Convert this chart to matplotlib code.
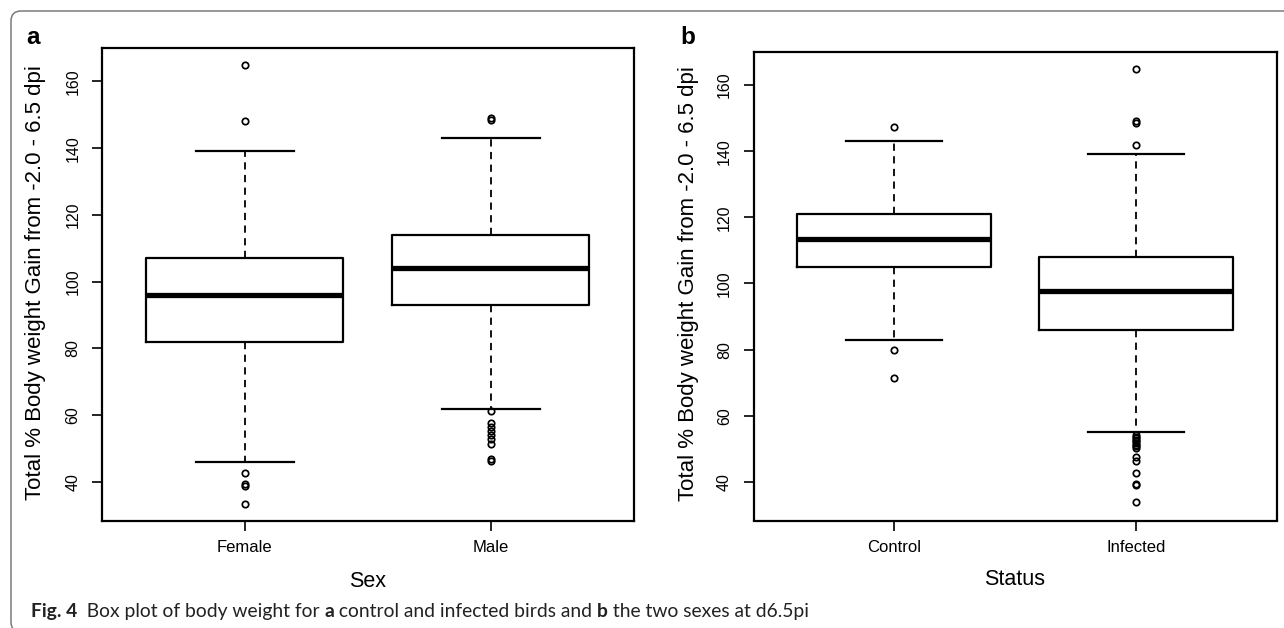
import matplotlib
matplotlib.use("Agg")
import matplotlib.pyplot as plt
from matplotlib.patches import FancyBboxPatch
from matplotlib.transforms import IdentityTransform

plt.rcParams['font.family'] = ['Liberation Sans', 'DejaVu Sans']

# panel a: by sex
sex_groups = ['Female', 'Male']
sex_med = [96, 104]
sex_q1 = [82, 93]
sex_q3 = [107, 114]
sex_lo = [46, 62]
sex_hi = [139, 143]
female_out = [165, 148.2, 42.8, 39.3, 38.9, 33.4]
male_out = [149.0, 148.3, 61.3, 57.8, 56.5, 55.3, 54.0, 52.8, 51.5, 46.9, 46.4]

# panel b: by infection status
status_groups = ['Control', 'Infected']
status_med = [113.5, 97.7]
status_q1 = [105, 86]
status_q3 = [121, 108]
status_lo = [83, 55]
status_hi = [143, 139]
control_out = [147.4, 80.0, 71.5]
infected_out = [165, 149, 148.5, 142, 54.2, 53.7, 53.2, 52.7, 52.2, 51.7,
                51.2, 50.7, 50.2, 47.5, 46.2, 42.8, 39.3, 39.0, 33.8]

yticks = [40, 60, 80, 100, 120, 140, 160]
ylab = 'Total % Body weight Gain from -2.0 - 6.5 dpi'


def make_stats(labels, med, q1, q3, lo, hi, outs):
    return [dict(label=labels[i], med=med[i], q1=q1[i], q3=q3[i],
                 whislo=lo[i], whishi=hi[i], fliers=outs[i])
            for i in range(len(labels))]


def draw_panel(ax, stats, xlab, letter, letter_xy):
    ax.bxp(stats, positions=[1, 2], widths=0.8, capwidths=0.4,
           boxprops=dict(color='black', linewidth=1.6),
           medianprops=dict(color='black', linewidth=3.8, solid_capstyle='butt'),
           whiskerprops=dict(color='black', linewidth=1.3, linestyle=(0, (4, 3))),
           capprops=dict(color='black', linewidth=1.6),
           flierprops=dict(marker='o', markerfacecolor='none',
                           markeredgecolor='black', markersize=4.6,
                           markeredgewidth=1.25))
    ax.set_xlim(0.42, 2.58)
    ax.set_ylim(28.3, 170.0)
    ax.set_yticks(yticks, [str(t) for t in yticks], rotation=90, va='center')
    ax.tick_params(axis='y', direction='out', length=7, width=1.2,
                   labelsize=11.5, pad=8.5)
    ax.tick_params(axis='x', direction='out', length=7, width=1.2,
                   labelsize=12, pad=7)
    for sp in ax.spines.values():
        sp.set_linewidth(1.6)
    ax.set_xlabel(xlab, fontsize=15.5)
    ax.xaxis.set_label_coords(0.5, -0.127)
    ax.xaxis.label.set_va('center')
    ax.set_ylabel(ylab, fontsize=16)
    ax.yaxis.set_label_coords(-0.125, 0.505)
    ax.yaxis.label.set_va('center')
    fig.text(letter_xy[0] / W, 1 - letter_xy[1] / H, letter, fontsize=17.5,
             fontweight='bold', ha='center', va='center')


W, H = 1284, 628
fig = plt.figure(figsize=(W / 100, H / 100), dpi=100)

ax1 = fig.add_axes([102 / W, 1 - 521 / H, 531.5 / W, 473 / H])
ax2 = fig.add_axes([753.5 / W, 1 - 520.5 / H, 523 / W, 468.5 / H])

stats_a = make_stats(sex_groups, sex_med, sex_q1, sex_q3, sex_lo, sex_hi,
                     [female_out, male_out])
stats_b = make_stats(status_groups, status_med, status_q1, status_q3,
                     status_lo, status_hi, [control_out, infected_out])

draw_panel(ax1, stats_a, 'Sex', 'a', (33, 38))
draw_panel(ax2, stats_b, 'Status', 'b', (688, 37))

# outer frame with rounded corners (runs off the right and bottom edge)
frame = FancyBboxPatch((11, -4), 1300, H - 11 + 4,
                       boxstyle='round,pad=0,rounding_size=10',
                       transform=IdentityTransform(), facecolor='none',
                       edgecolor='#7a7a7a', linewidth=1.1)
fig.add_artist(frame)

# caption with bold parts, chained piece by piece
cap = fig.add_axes([0, 0, 1, 1])
cap.axis('off')
cap.set_xlim(0, W)
cap.set_ylim(H, 0)
pieces = [('Fig. 4', 'bold'), ('  Box plot of body weight for ', 'normal'),
          ('a', 'bold'), (' control and infected birds and ', 'normal'),
          ('b', 'bold'), (' the two sexes at d6.5pi', 'normal')]
prev = None
for txt, wt in pieces:
    kw = dict(fontsize=13.9, fontweight=wt, family=['Lato', 'DejaVu Sans'],
              color='#222222', annotation_clip=False)
    if prev is None:
        prev = cap.annotate(txt, xy=(31, 617), xycoords='data',
                            va='baseline', **kw)
    else:
        prev = cap.annotate(txt, xy=(1, 0), xycoords=prev, va='bottom', **kw)

fig.savefig('out.png', dpi=100)
